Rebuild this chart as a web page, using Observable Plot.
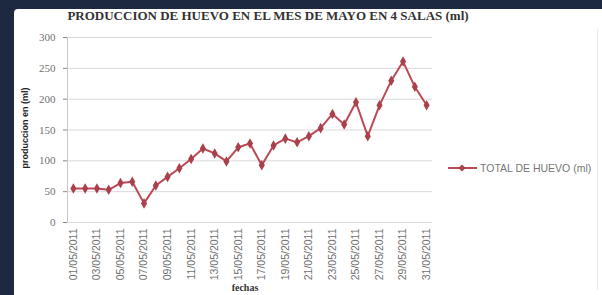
<!DOCTYPE html>
<html>
<head>
<meta charset="utf-8">
<script src="https://cdn.jsdelivr.net/npm/d3@7"></script>
<script src="https://cdn.jsdelivr.net/npm/@observablehq/plot@0.6"></script>
<style>
  html, body { margin: 0; padding: 0; }
  body { width: 602px; height: 295px; background: #1c2940; position: relative; overflow: hidden; }
  #panel { position: absolute; left: 14px; top: 9px; width: 588px; height: 286px; background: #ffffff; border-top-left-radius: 4px; }
  #edge { position: absolute; left: 597px; top: 28px; width: 1px; height: 262px; background: #ececec; }
  #chart { position: absolute; left: 0; top: 0; }
  #title { position: absolute; left: 0; width: 536px; top: 8px; text-align: center; font-family: "Liberation Serif", serif; font-weight: bold; font-size: 13px; color: #333; white-space: nowrap; }
  #ylabel { position: absolute; left: 25px; top: 128px; transform: translate(-50%, -50%) rotate(-90deg); font-family: "Liberation Sans", sans-serif; font-weight: bold; font-size: 9px; color: #222; white-space: nowrap; }
  #xlabel { position: absolute; left: 245px; top: 282px; transform: translateX(-50%); font-family: "Liberation Serif", serif; font-weight: bold; font-size: 10px; color: #333; }
  #legend { position: absolute; left: 448px; top: 162px; display: flex; align-items: center; font-family: "Liberation Sans", sans-serif; font-size: 10.5px; color: #777; white-space: nowrap; }
</style>
</head>
<body>
<div id="panel"></div>
<div id="edge"></div>
<div id="chart"></div>
<div id="title"></div>
<div id="ylabel"></div>
<div id="xlabel"></div>
<div id="legend"></div>
<script>
const titleText = "PRODUCCION DE HUEVO EN EL MES DE MAYO EN 4 SALAS  (ml)";
const yLabelText = "produccion en (ml)";
const xLabelText = "fechas";
const seriesName = "TOTAL DE HUEVO (ml)";
const dates = ["01/05/2011","02/05/2011","03/05/2011","04/05/2011","05/05/2011","06/05/2011","07/05/2011","08/05/2011","09/05/2011","10/05/2011","11/05/2011","12/05/2011","13/05/2011","14/05/2011","15/05/2011","16/05/2011","17/05/2011","18/05/2011","19/05/2011","20/05/2011","21/05/2011","22/05/2011","23/05/2011","24/05/2011","25/05/2011","26/05/2011","27/05/2011","28/05/2011","29/05/2011","30/05/2011","31/05/2011"];
const values = [55,55,55,53,64,66,31,60,74,88,103,120,112,99,122,128,93,125,136,130,140,153,176,159,195,140,190,230,261,220,190];
const yTicks = [0,50,100,150,200,250,300];
const xTickLabels = ["01/05/2011","03/05/2011","05/05/2011","07/05/2011","09/05/2011","11/05/2011","13/05/2011","15/05/2011","17/05/2011","19/05/2011","21/05/2011","23/05/2011","25/05/2011","27/05/2011","29/05/2011","31/05/2011"];

const lineColor = "#bc4a56";
const data = dates.map((d, i) => ({date: d, pos: i + 1, value: values[i]}));
const xTicks = xTickLabels.map(l => dates.indexOf(l) + 1);
const xDomain = [0.5, dates.length + 0.5];

const chart = Plot.plot({
  width: 602,
  height: 295,
  marginLeft: 67,
  marginRight: 170,
  marginTop: 37,
  marginBottom: 73,
  style: { background: "transparent", fontFamily: "Liberation Sans, sans-serif", fontSize: "10px", color: "#888" },
  x: { domain: xDomain, ticks: xTicks, tickFormat: d => dates[d - 1], tickRotate: -90, tickSize: 0, tickPadding: 6, label: null },
  y: { domain: [0, 300], ticks: yTicks, tickSize: 4, tickPadding: 8, label: null },
  marks: [
    Plot.ruleY(yTicks, { stroke: "#d9d9d9", strokeWidth: 1 }),
    Plot.ruleX([xDomain[0]], { stroke: "#c8c8c8" }),
    Plot.line(data, { x: "pos", y: "value", stroke: lineColor, strokeWidth: 2 }),
    Plot.dot(data, { x: "pos", y: "value", symbol: "diamond", r: 3.2, fill: "#a9404c", stroke: "none" })
  ]
});
document.getElementById("chart").appendChild(chart);

const yTickStrings = yTicks.map(String);
d3.select(chart).selectAll("text").each(function () {
  const t = this.textContent;
  if (yTickStrings.includes(t)) {
    d3.select(this).style("font-family", "'Liberation Serif', serif").style("font-size", "11px").style("fill", "#707070");
  } else if (xTickLabels.includes(t)) {
    d3.select(this).style("font-family", "'Liberation Sans', sans-serif").style("font-size", "10.5px").style("fill", "#707070");
  }
});

document.getElementById("title").textContent = titleText;
document.getElementById("ylabel").textContent = yLabelText;
document.getElementById("xlabel").textContent = xLabelText;

const legend = document.getElementById("legend");
legend.innerHTML = `<svg width="30" height="10" style="margin-right:2px"><line x1="0" y1="5" x2="29" y2="5" stroke="${lineColor}" stroke-width="2"/><path d="M14,1.5 L17.5,5 L14,8.5 L10.5,5 Z" fill="#a9404c"/></svg><span></span>`;
legend.querySelector("span").textContent = seriesName;
</script>
</body>
</html>
